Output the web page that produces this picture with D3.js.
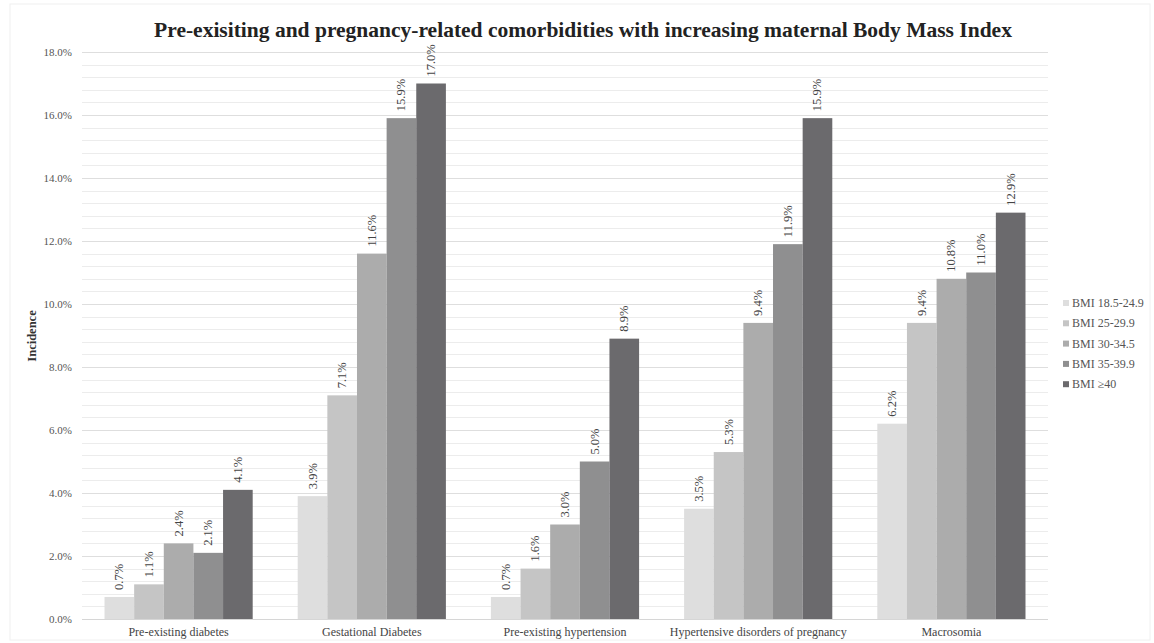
<!DOCTYPE html>
<html>
<head>
<meta charset="utf-8">
<script src="https://cdn.jsdelivr.net/npm/d3@7"></script>
<style>
html,body{margin:0;padding:0;background:#fff;}
svg{display:block;font-family:"Liberation Serif","Times New Roman",serif;}
</style>
</head>
<body>
<svg id="chart" width="1154" height="643"></svg>
<script>
const categories = ["Pre-existing diabetes","Gestational Diabetes","Pre-existing hypertension","Hypertensive disorders of pregnancy","Macrosomia"];
const seriesNames = ["BMI 18.5-24.9","BMI 25-29.9","BMI 30-34.5","BMI 35-39.9","BMI \u226540"];
const bmi18 = [0.7, 3.9, 0.7, 3.5, 6.2];
const bmi25 = [1.1, 7.1, 1.6, 5.3, 9.4];
const bmi30 = [2.4, 11.6, 3.0, 9.4, 10.8];
const bmi35 = [2.1, 15.9, 5.0, 11.9, 11.0];
const bmi40 = [4.1, 17.0, 8.9, 15.9, 12.9];
const yTicks = [0, 2, 4, 6, 8, 10, 12, 14, 16, 18];
const seriesValues = [bmi18, bmi25, bmi30, bmi35, bmi40];
const colors = ["#dedede", "#c5c5c5", "#acacac", "#8f8f90", "#6b6a6d"];

const svg = d3.select("#chart");
const plotLeft = 82, plotRight = 1048, plotTop = 52, plotBottom = 619;

const x0 = d3.scaleBand().domain(categories).range([plotLeft, plotRight]).paddingInner(0.233).paddingOuter(0.1165);
const x1 = d3.scaleBand().domain(seriesNames).range([0, x0.bandwidth()]).padding(0);
const y = d3.scaleLinear().domain([0, 18]).range([plotBottom, plotTop]);

// outer frame
svg.append("rect").attr("x", 10).attr("y", 4).attr("width", 1140).attr("height", 636)
  .attr("fill", "none").attr("stroke", "#f0f0f0").attr("stroke-width", 1);

// minor gridlines
const minor = d3.range(0, 18.01, 0.4).filter(v => Math.abs(v / 2 - Math.round(v / 2)) > 0.01);
svg.append("g").selectAll("line").data(minor).join("line")
  .attr("x1", plotLeft).attr("x2", plotRight)
  .attr("y1", d => Math.round(y(d)) + 0.5).attr("y2", d => Math.round(y(d)) + 0.5)
  .attr("stroke", "#ececec").attr("stroke-width", 1);

// major gridlines via axis
const yAxis = d3.axisLeft(y).tickValues(yTicks).tickFormat(d => d.toFixed(1) + "%").tickSize(-(plotRight - plotLeft)).tickPadding(10);
const gy = svg.append("g").attr("transform", `translate(${plotLeft},0)`).call(yAxis);
gy.select(".domain").remove();
gy.selectAll(".tick line").attr("stroke", "#dedede");
gy.selectAll(".tick text").attr("font-size", 11).attr("fill", "#555").attr("font-family", "Liberation Serif, serif");

// baseline
svg.append("line").attr("x1", plotLeft).attr("x2", plotRight).attr("y1", plotBottom + 0.5).attr("y2", plotBottom + 0.5).attr("stroke", "#d6d6d6");

// bars
const groups = svg.append("g").selectAll("g").data(categories).join("g")
  .attr("transform", d => `translate(${x0(d)},0)`);

groups.each(function(cat, ci) {
  const g = d3.select(this);
  const vals = seriesNames.map((s, si) => ({ s, si, v: seriesValues[si][ci] }));
  g.selectAll("rect").data(vals).join("rect")
    .attr("x", d => x1(d.s)).attr("width", x1.bandwidth())
    .attr("y", d => y(d.v)).attr("height", d => y(0) - y(d.v))
    .attr("fill", d => colors[d.si]);
  g.selectAll("text").data(vals).join("text")
    .attr("transform", d => `translate(${x1(d.s) + x1.bandwidth() / 2 + 4},${y(d.v) - 7}) rotate(-90)`)
    .attr("font-size", 12.5).attr("fill", "#444")
    .text(d => d.v.toFixed(1) + "%");
});

// category labels
const xAxis = d3.axisBottom(x0).tickSize(0).tickPadding(8);
const gx = svg.append("g").attr("transform", `translate(0,${plotBottom})`).call(xAxis);
gx.select(".domain").remove();
gx.selectAll(".tick text").attr("font-size", 12).attr("fill", "#444").attr("font-family", "Liberation Serif, serif");

// title
svg.append("text").attr("x", 583).attr("y", 37).attr("text-anchor", "middle")
  .attr("font-size", 21.5).attr("font-weight", "bold").attr("fill", "#222")
  .text("Pre-exisiting and pregnancy-related comorbidities with increasing maternal Body Mass Index");

// y axis title
svg.append("text").attr("transform", `translate(36,336) rotate(-90)`).attr("text-anchor", "middle")
  .attr("font-size", 12.5).attr("font-weight", "bold").attr("fill", "#333").text("Incidence");

// legend
const legend = svg.append("g").attr("transform", "translate(1063,303)");
const li = legend.selectAll("g").data(seriesNames).join("g")
  .attr("transform", (d, i) => `translate(0,${i * 20.3})`);
li.append("rect").attr("x", 0).attr("y", -3).attr("width", 6).attr("height", 6).attr("fill", (d, i) => colors[i]);
li.append("text").attr("x", 9).attr("y", 4).attr("font-size", 12).attr("fill", "#555").text(d => d);
</script>
</body>
</html>
